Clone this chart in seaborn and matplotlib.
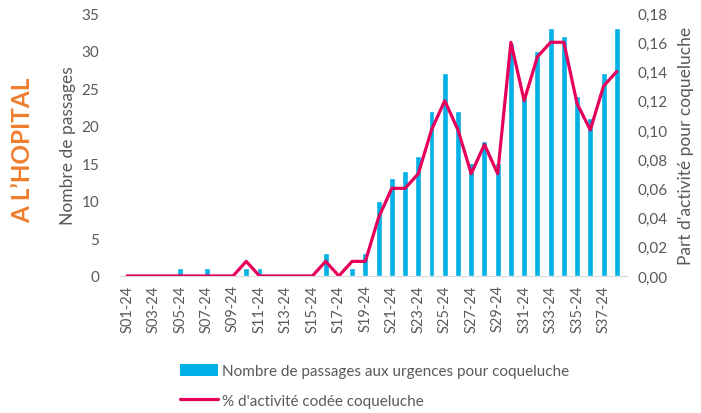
import matplotlib
matplotlib.use('Agg')
import matplotlib.pyplot as plt
import seaborn as sns
import numpy as np
import pandas as pd
from matplotlib.patches import Patch
from matplotlib.lines import Line2D
from matplotlib.ticker import FuncFormatter

weeks = [f"S{i:02d}-24" for i in range(1, 39)]
passages = [0, 0, 0, 0, 1, 0, 1, 0, 0, 1,
            1, 0, 0, 0, 0, 3, 0, 1, 3, 10,
            13, 14, 16, 22, 27, 22, 15, 18, 15, 31,
            24, 30, 33, 32, 24, 21, 27, 33]
part_activite = [0, 0, 0, 0, 0, 0, 0, 0, 0, 0.01,
                 0, 0, 0, 0, 0, 0.01, 0, 0.01, 0.01, 0.04,
                 0.06, 0.06, 0.07, 0.10, 0.12, 0.10, 0.07, 0.09, 0.07, 0.16,
                 0.12, 0.15, 0.16, 0.16, 0.118, 0.10, 0.13, 0.14]

BLUE = '#00B0E6'
PINK = '#E6005C'
GREY = '#595959'
ORANGE = '#F07D2E'

sns.set_style('white')
plt.rcParams['font.family'] = ['Lato', 'DejaVu Sans']

df = pd.DataFrame({'semaine': weeks, 'pos': np.arange(len(weeks)),
                   'passages': passages, 'part': part_activite})

fig = plt.figure(figsize=(7.01, 4.14), dpi=100)
ax = fig.add_axes([0.171, 0.331, 0.723, 0.635])

sns.barplot(data=df, x='pos', y='passages', color=BLUE, width=0.45,
            saturation=1, ax=ax, native_scale=True)
ax.set_ylim(0, 35)
ax.set_yticks(range(0, 36, 5))
ax.set_xlim(-0.55, 37.75)
ax.set_xticks(df['pos'][::2])
ax.set_xticklabels(weeks[::2], rotation=90, fontsize=10.5, color=GREY)
ax.tick_params(axis='y', labelsize=11, labelcolor=GREY, length=0, pad=15)
ax.tick_params(axis='x', length=0, pad=6)
ax.set_xlabel('')
ax.set_ylabel('Nombre de passages', fontsize=12.5, color=GREY, labelpad=4)
for s in ['top', 'right', 'left']:
    ax.spines[s].set_visible(False)
ax.spines['bottom'].set_color('#D9D9D9')

ax2 = ax.twinx()
sns.lineplot(data=df, x='pos', y='part', color=PINK, linewidth=2.3, ax=ax2)
ax2.set_ylim(0, 0.18)
ax2.set_yticks(np.arange(0, 0.181, 0.02))
ax2.yaxis.set_major_formatter(FuncFormatter(lambda v, p: f"{v:.2f}".replace('.', ',')))
ax2.tick_params(axis='y', labelsize=11, labelcolor=GREY, length=0, pad=8)
ax2.set_ylabel("Part d'activité pour coqueluche", fontsize=12.5, color=GREY, labelpad=7)
for s in ax2.spines.values():
    s.set_visible(False)

fig.text(0.033, 0.638, "A L\u2019HOPITAL", rotation=90, color=ORANGE, fontsize=17.5,
         fontweight='bold', ha='center', va='center')

handles = [Patch(facecolor=BLUE, edgecolor='none'),
           Line2D([0], [0], color=PINK, linewidth=2.3)]
labels = ["Nombre de passages aux urgences pour coqueluche",
          "% d'activité codée coqueluche"]
fig.legend(handles, labels, loc='upper left', bbox_to_anchor=(0.257, 0.118),
           frameon=False, fontsize=11, labelcolor=GREY, handlelength=2.5,
           handleheight=0.8, handletextpad=0.25, labelspacing=1.0,
           borderaxespad=0, borderpad=0)

fig.savefig('out.png', dpi=100)
